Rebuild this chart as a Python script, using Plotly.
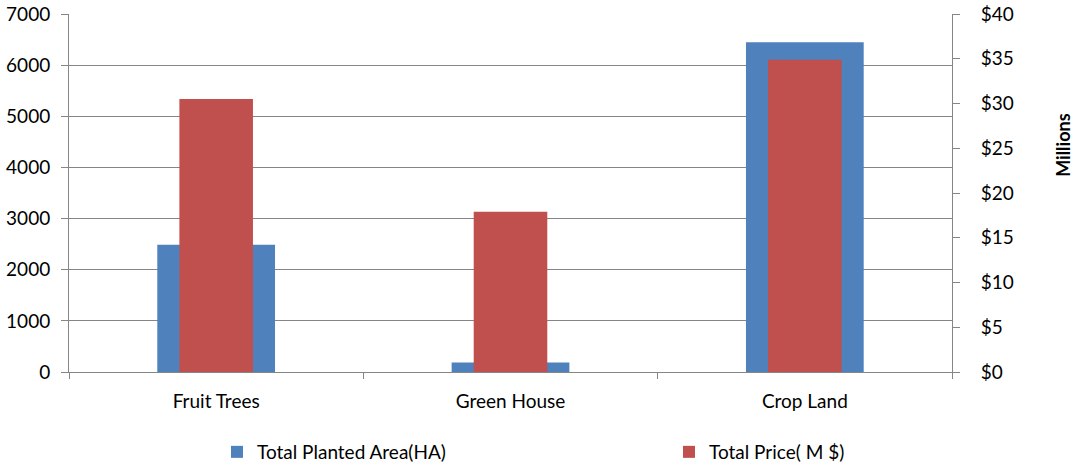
import plotly.graph_objects as go

categories = ["Fruit Trees", "Green House", "Crop Land"]
planted_area = [2490, 185, 6450]
total_price_m = [30.5, 17.9, 34.9]
left_ticks = [0, 1000, 2000, 3000, 4000, 5000, 6000, 7000]
right_ticks = [0, 5, 10, 15, 20, 25, 30, 35, 40]
right_labels = ["$" + str(v) for v in right_ticks]

FONT = "Lato, 'Liberation Sans', sans-serif"
FS = 19
fig = go.Figure()
fig.add_trace(go.Bar(x=categories, y=planted_area, name="Total Planted Area(HA)",
                     marker=dict(color="#4F81BD", line=dict(width=0)), width=0.4,
                     yaxis="y", legend="legend"))
fig.add_trace(go.Bar(x=categories, y=total_price_m, name="Total Price( M $)",
                     marker=dict(color="#C0504D", line=dict(width=0)), width=0.25,
                     yaxis="y2", legend="legend2"))

fig.update_layout(
    width=1074, height=468,
    margin=dict(l=69, r=122, t=14, b=95.5, autoexpand=False),
    paper_bgcolor="white", plot_bgcolor="white",
    barmode="overlay",
    font=dict(family=FONT, size=FS, color="black"),
    xaxis=dict(range=[-0.5, 2.5], showline=True, linecolor="#868686", linewidth=1,
               ticks="outside", tickson="boundaries", ticklen=6, tickcolor="#868686",
               showgrid=False, tickfont=dict(size=FS), automargin=False,
               ticklabelstandoff=12),
    yaxis=dict(range=[0, 7000], tickvals=left_ticks, showline=True, linecolor="#868686",
               ticks="outside", ticklen=7, tickcolor="#868686", gridcolor="#868686",
               gridwidth=1, zeroline=False, tickfont=dict(size=FS), ticklabelstandoff=7,
               automargin=False),
    yaxis2=dict(range=[0, 40], tickvals=right_ticks, ticktext=right_labels, overlaying="y",
                side="right", showline=True, linecolor="#868686", ticks="outside",
                ticklen=7, tickcolor="#868686", showgrid=False, zeroline=False,
                tickfont=dict(size=FS), ticklabelstandoff=17, automargin=False),
    annotations=[dict(text="<b>Millions</b>", xref="paper", yref="paper",
                      x=(1063 - 69) / 883, y=(372.5 - 146) / 358.5, textangle=-90,
                      showarrow=False, xanchor="center", yanchor="middle",
                      font=dict(size=FS - 1, family=FONT))],
    legend=dict(orientation="h", xref="container", yref="container",
                x=217 / 1074, xanchor="left", y=1 - 452 / 468, yanchor="middle",
                font=dict(size=FS), bgcolor="rgba(0,0,0,0)", itemclick=False),
    legend2=dict(orientation="h", xref="container", yref="container",
                 x=669 / 1074, xanchor="left", y=1 - 452 / 468, yanchor="middle",
                 font=dict(size=FS), bgcolor="rgba(0,0,0,0)", itemclick=False),
    showlegend=True,
)
fig.write_html("out.html")
